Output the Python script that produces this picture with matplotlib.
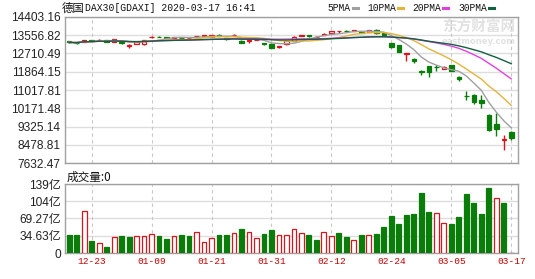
import matplotlib.pyplot as plt
from matplotlib.lines import Line2D
import numpy as np
import pandas as pd

# DAX30 daily candles, 2019-12-18 .. 2020-03-17
dates = ['12-18', '12-19', '12-20', '12-23', '12-27', '12-30',
         '01-02', '01-03', '01-06', '01-07', '01-08', '01-09', '01-10', '01-13', '01-14',
         '01-15', '01-16', '01-17', '01-20', '01-21', '01-22', '01-23', '01-24', '01-27',
         '01-28', '01-29', '01-30', '01-31',
         '02-03', '02-04', '02-05', '02-06', '02-07', '02-10', '02-11', '02-12', '02-13',
         '02-14', '02-17', '02-18', '02-19', '02-20', '02-21', '02-24', '02-25', '02-26',
         '02-27', '02-28',
         '03-02', '03-03', '03-04', '03-05', '03-06', '03-09', '03-10', '03-11', '03-12',
         '03-13', '03-16', '03-17']
opens = [13270, 13215, 13240, 13340, 13320, 13320, 13235, 13250, 13080, 13160,
         13140, 13470, 13495, 13480, 13440, 13450, 13420, 13500, 13530, 13490,
         13580, 13420, 13570, 13300, 13290, 13340, 13190, 13160, 12990, 13150,
         13300, 13520, 13550, 13490, 13560, 13680, 13740, 13745, 13770, 13720,
         13730, 13790, 13650, 13200, 13090, 12690, 12440, 11900, 12115, 12090,
         12000, 12160, 11600, 10760, 10770, 10570, 9870, 9420, 8700, 9070]
highs = [13290, 13240, 13330, 13345, 13380, 13330, 13390, 13260, 13135, 13260,
         13325, 13500, 13525, 13490, 13470, 13470, 13450, 13540, 13560, 13560,
         13600, 13440, 13600, 13320, 13340, 13380, 13220, 13180, 13060, 13300,
         13500, 13580, 13560, 13510, 13640, 13760, 13760, 13790, 13800, 13760,
         13800, 13830, 13680, 13215, 13110, 12740, 12505, 11960, 12130, 12195,
         12110, 12170, 11650, 10955, 10820, 10800, 9900, 9950, 8950, 9130]
lows = [13200, 13160, 13230, 13290, 13300, 13240, 13230, 13130, 12950, 13150,
        13120, 13440, 13470, 13420, 13410, 13400, 13390, 13490, 13520, 13480,
        13500, 13320, 13550, 13200, 13180, 13330, 13100, 12960, 12950, 13090,
        13290, 13500, 13480, 13430, 13550, 13670, 13660, 13720, 13750, 13650,
        13720, 13600, 13530, 12960, 12760, 12350, 12270, 11730, 11600, 11880,
        11990, 11900, 11450, 10570, 10370, 10190, 9100, 8870, 8250, 8710]
closes = [13222, 13212, 13319, 13300, 13337, 13249, 13386, 13219, 13127, 13227,
          13320, 13495, 13483, 13452, 13456, 13432, 13429, 13526, 13548, 13555,
          13515, 13388, 13577, 13205, 13324, 13345, 13158, 12982, 13045, 13281,
          13479, 13575, 13514, 13494, 13627, 13749, 13745, 13744, 13784, 13681,
          13789, 13664, 13579, 12990, 12790, 12715, 12370, 11870, 11830, 12075,
          12100, 11920, 11520, 10730, 10440, 10410, 9140, 9232, 8742, 8800]
prev_close = 13287
# volume in 亿
volumes = [35.5, 36.9, 85, 24.8, 20, 12.7, 31.5, 33.5, 31.5, 33.5,
           34.8, 38.9, 33.5, 28.8, 34.8, 35.5, 33.5, 42.2, 22, 29.5,
           35.5, 36.9, 40.2, 48.9, 42.9, 29.5, 38.9, 46.9, 36.9, 36.9,
           48.9, 40.2, 35.5, 26.8, 42.2, 34.8, 40.9, 31.5, 26.8, 35.5,
           36.9, 38.9, 51.6, 73.7, 59, 77, 79, 120, 83, 81,
           60.3, 59, 73, 118, 101, 79, 130, 111, 101, 0]

price_ticks = [7632.47, 8478.81, 9325.14, 10171.48, 11017.81, 11864.15, 12710.49, 13556.82, 14403.16]
vol_ticks = [0, 34.63, 69.27, 103.9, 138.53]
vol_labels = ['0', '34.63亿', '69.27亿', '104亿', '139亿']
label_idx = [3, 11, 19, 27, 35, 43, 51, 59]
ma_periods = [5, 10, 20, 30]
ma_colors = ['#a0a0a0', '#e6b43c', '#e040e0', '#11603e']

RED = '#d8141c'
GREEN = '#0a7c0a'
GRID = '#dedede'

x = np.arange(len(closes))
o = np.array(opens); c = np.array(closes)
h = np.array(highs); l = np.array(lows)
up = c >= o
prevs = np.concatenate([[prev_close], c[:-1]])
vol_up = c >= prevs

fig = plt.figure(figsize=(5.35, 2.79), dpi=100)
ax1 = fig.add_axes([65 / 535, 1 - 163 / 279, 453 / 535, 146 / 279])
ax2 = fig.add_axes([65 / 535, 1 - 253 / 279, 453 / 535, 69 / 279])

num_font = ['Liberation Sans', 'Noto Sans CJK SC']
mono_font = ['Liberation Mono', 'Noto Sans CJK SC']

# candles
ccol = np.where(up, RED, GREEN)
ax1.vlines(x, l, h, colors=ccol, linewidth=1, zorder=3)
ax1.bar(x, np.maximum(np.abs(c - o), 1), bottom=np.minimum(o, c), width=0.6,
        color=np.where(up, 'white', GREEN), edgecolor=ccol, linewidth=0.9, zorder=4)

s = pd.Series(closes, dtype=float)
for n, col in zip(ma_periods, ma_colors):
    ax1.plot(x, s.rolling(n, min_periods=1).mean(), color=col, linewidth=1, zorder=5)

ax1.set_ylim(price_ticks[0], price_ticks[-1])
ax1.set_yticks(price_ticks)
ax1.set_yticklabels(['%.2f' % t for t in price_ticks], family=num_font, fontsize=8.6, color='#222222')

# volume
vcol = np.where(vol_up, RED, GREEN)
ax2.bar(x, volumes, width=0.65, color=np.where(vol_up, 'white', GREEN),
        edgecolor=vcol, linewidth=0.9, zorder=3)
ax2.set_ylim(vol_ticks[0], vol_ticks[-1])
ax2.set_yticks(vol_ticks)
ax2.set_yticklabels(vol_labels, family=num_font, fontsize=8.6, color='#222222')
ax2.set_xticks(label_idx)
ax2.set_xticklabels([dates[i] for i in label_idx], family=mono_font, fontsize=6.8, color='#c80000')

for ax in (ax1, ax2):
    ax.set_xlim(-0.55, 59.9)
    ax.set_xticks(label_idx)
    ax.tick_params(length=0, pad=3)
    ax.grid(axis='y', color=GRID, linewidth=1, linestyle='-', zorder=0)
    for i in label_idx:
        ax.axvline(i, color='#c8c8c8', linewidth=0.8, linestyle=(0, (3, 3)), zorder=1)
    for sp in ax.spines.values():
        sp.set_color('#a0a0a0')
        sp.set_linewidth(1)
    ax.set_axisbelow(True)
ax1.set_xticklabels([])

# watermark
ax1.text(0.995, 0.93, '东方财富网', transform=ax1.transAxes, ha='right', va='center',
         family=['Noto Sans CJK SC'], fontsize=10.5, fontweight='bold', color='#e2e2e2', zorder=0)
ax1.text(0.995, 0.83, 'eastmoney.com', transform=ax1.transAxes, ha='right', va='center',
         family=['DejaVu Sans'], fontsize=6, fontweight='bold', color='#e2e2e2', zorder=0)

# header
fig.text(62 / 535, 1 - 8 / 279, '德国', ha='left', va='center',
         family=['Noto Sans CJK SC'], fontsize=8.2, color='#111111')
fig.text(85 / 535, 1 - 8 / 279, 'DAX30[GDAXI] 2020-03-17 16:41', ha='left', va='center',
         family=mono_font, fontsize=7.0, color='#111111')
leg_x = [327, 367, 412, 458]
for lx, n, col in zip(leg_x, ma_periods, ma_colors):
    t = fig.text(lx / 535, 1 - 8 / 279, '%dPMA' % n, ha='left', va='center',
                 family=mono_font, fontsize=6.9, color='#111111')
    dx = (5.4 * len('%dPMA' % n) + 4) / 535
    fig.add_artist(Line2D([lx / 535 + dx, lx / 535 + dx + 5 / 535], [1 - 8 / 279] * 2,
                          color=col, linewidth=2.2, transform=fig.transFigure))

fig.text(67 / 535, 1 - 177 / 279, '成交量:0', ha='left', va='center',
         family=['Noto Sans CJK SC'], fontsize=8.4, color='#111111')

fig.savefig('out.png', dpi=100)
